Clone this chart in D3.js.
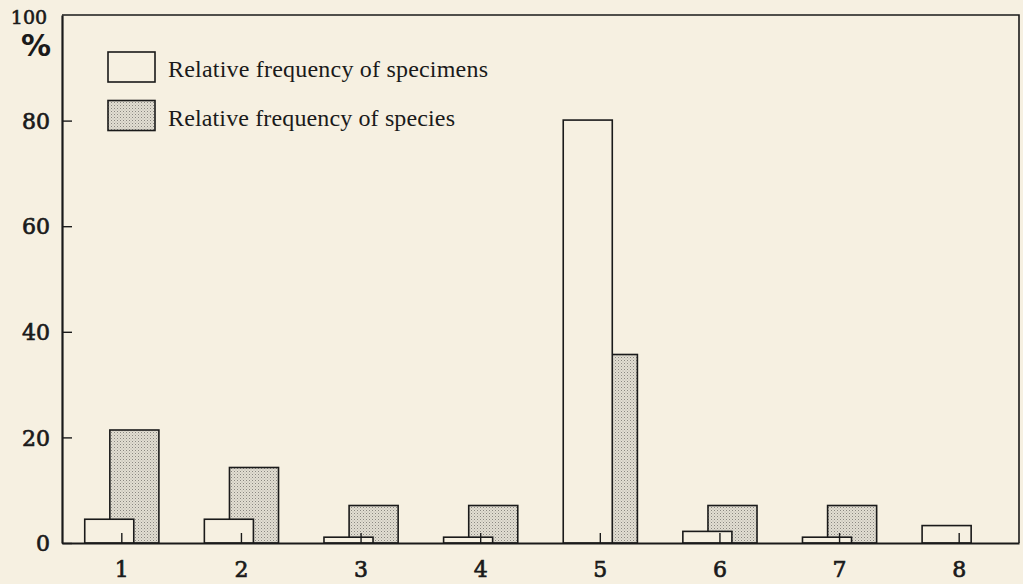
<!DOCTYPE html>
<html><head><meta charset="utf-8">
<script src="https://cdn.jsdelivr.net/npm/d3@7"></script>
<style>
html,body{margin:0;padding:0;background:#f6f0e1;}
svg{display:block;}
</style></head>
<body>
<svg id="chart" width="1023" height="584"></svg>
<script>
const categories = ["1","2","3","4","5","6","7","8"];
const specimens = [4.5, 4.5, 1.1, 1.1, 80.1, 2.2, 1.1, 3.3];
const species = [21.4, 14.3, 7.1, 7.1, 35.7, 7.1, 7.1, 0];
const yTicks = [0, 20, 40, 60, 80];
const legendLabels = ["Relative frequency of specimens", "Relative frequency of species"];

(function(){
const bg = "#f6f0e1";
const ink = "#1a1a1a";
const svg = d3.select("#chart");
const mLeft = 62, mRight = 1019, mTop = 15, mBottom = 543;

const defs = svg.append("defs");
const pat = defs.append("pattern").attr("id","stip").attr("patternUnits","userSpaceOnUse")
  .attr("width",3).attr("height",3);
pat.append("rect").attr("width",3).attr("height",3).attr("fill","#e2ded2");
pat.append("rect").attr("x",0).attr("y",0).attr("width",1).attr("height",1).attr("fill","#8a8781");
pat.append("rect").attr("x",1.5).attr("y",1.5).attr("width",1).attr("height",1).attr("fill","#aeaba3");

const x = d3.scaleBand().domain(categories).range([mLeft, mRight]).padding(0);
const y = d3.scaleLinear().domain([0,100]).range([mBottom, mTop]);
const step = x.step();
const bw = step * 0.41;
const cx = c => x(c) + step/2;

// frame
svg.append("path").attr("d", `M${mLeft},${mTop}H${mRight}V${mBottom}`)
  .attr("fill","none").attr("stroke",ink).attr("stroke-width",1.6);

// species bars (behind)
svg.append("g").selectAll("rect").data(categories.map((c,i)=>({c,v:species[i]})).filter(d=>d.v>0))
  .join("rect")
  .attr("x", d => cx(d.c) - step*0.1)
  .attr("y", d => y(d.v))
  .attr("width", bw)
  .attr("height", d => y(0) - y(d.v))
  .attr("fill","url(#stip)").attr("stroke",ink).attr("stroke-width",1.6);

// specimen bars (front)
svg.append("g").selectAll("rect").data(categories.map((c,i)=>({c,v:specimens[i]})))
  .join("rect")
  .attr("x", d => cx(d.c) - step*0.31)
  .attr("y", d => y(d.v))
  .attr("width", bw)
  .attr("height", d => y(0) - y(d.v))
  .attr("fill",bg).attr("stroke",ink).attr("stroke-width",1.6);

// x axis
const xAxis = svg.append("g").attr("transform",`translate(0,${mBottom})`)
  .call(d3.axisBottom(x).tickSizeInner(-10).tickSizeOuter(0).tickPadding(27));
xAxis.select(".domain").attr("stroke",ink).attr("stroke-width",2);
xAxis.selectAll(".tick line").attr("stroke",ink).attr("stroke-width",1.4);
xAxis.selectAll(".tick text").attr("font-family","DejaVu Serif").attr("font-size",22)
  .attr("fill",ink).attr("stroke",ink).attr("stroke-width",0.7).attr("dy","0.3em");

// y axis
const yAxis = svg.append("g").attr("transform",`translate(${mLeft},0)`)
  .call(d3.axisLeft(y).tickValues(yTicks).tickFormat(d3.format("d")).tickSizeInner(-10).tickSizeOuter(0).tickPadding(20));
yAxis.select(".domain").attr("stroke",ink).attr("stroke-width",2.2);
yAxis.selectAll(".tick line").attr("stroke",ink).attr("stroke-width",1.4);
yAxis.selectAll(".tick text").attr("font-family","DejaVu Serif").attr("font-size",22)
  .attr("fill",ink).attr("stroke",ink).attr("stroke-width",0.7).attr("x",-12).attr("dy","0.35em");

// 100 and % label
svg.append("text").attr("x",29).attr("y",24).attr("text-anchor","middle")
  .attr("font-family","DejaVu Serif").attr("font-size",19).attr("fill",ink)
  .attr("stroke",ink).attr("stroke-width",0.6).text("100");
svg.append("text").attr("x",36).attr("y",56).attr("text-anchor","middle")
  .attr("font-family","DejaVu Sans").attr("font-size",30).attr("font-weight","bold").attr("fill",ink).text("%");

// legend
const lg = svg.append("g");
[0,1].forEach(i => {
  const yy = 52 + i*48.5;
  lg.append("rect").attr("x",108).attr("y",yy).attr("width",47).attr("height",30)
    .attr("fill", i===0 ? bg : "url(#stip)").attr("stroke",ink).attr("stroke-width",1.6);
  lg.append("text").attr("x",168).attr("y",yy+25).attr("font-family","Liberation Serif")
    .attr("font-size",24).attr("fill",ink)
    .attr("textLength", i===0 ? 320 : 287).attr("lengthAdjust","spacing")
    .text(legendLabels[i]);
});
})();
</script>
</body></html>
